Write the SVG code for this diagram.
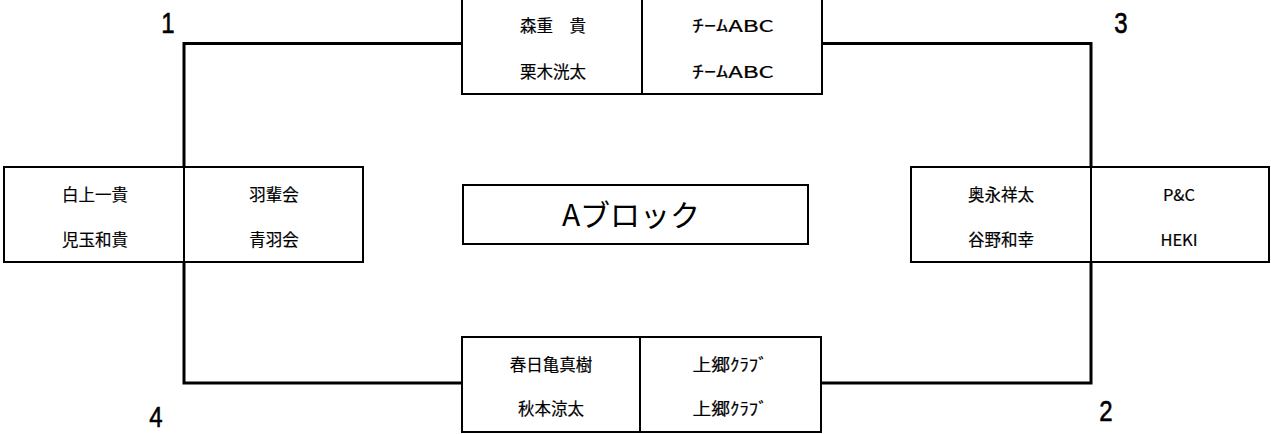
<svg xmlns="http://www.w3.org/2000/svg" width="1271" height="434" viewBox="0 0 1271 434">
<style>
.bg{fill:#fff}
.box{fill:#fff;stroke:#000;stroke-width:2}
.div{stroke:#000;stroke-width:2}
.con{fill:none;stroke:#000;stroke-width:3}
.t{font-family:"Noto Sans CJK JP","Noto Sans",sans-serif;font-size:16.5px;fill:#000;stroke:#000;stroke-width:0.2;text-anchor:middle;dominant-baseline:central}
.title{font-family:"Noto Sans CJK JP","Noto Sans",sans-serif;font-size:30px;fill:#000;text-anchor:middle;dominant-baseline:central}
.num{font-family:"Liberation Sans",Arial,sans-serif;font-size:30px;fill:#000;stroke:#000;stroke-width:0.6;text-anchor:middle}
</style>
<rect class="bg" x="0" y="0" width="1271" height="434"/>
<g id="connectors">
<path class="con" d="M462 43.5 H184 V383 H462"/>
<path class="con" d="M822 43.5 H1091 V383 H821"/>
</g>
<g id="node-top">
<rect class="box" x="462" y="-2" width="360" height="96"/>
<line class="div" x1="642" y1="-2" x2="642" y2="94"/>
<text class="t" x="553" y="25">森重　貴</text>
<text class="t" x="553" y="71">栗木洸太</text>
<text class="t" x="733" y="25" textLength="82" lengthAdjust="spacingAndGlyphs">ﾁｰﾑABC</text>
<text class="t" x="733" y="71" textLength="82" lengthAdjust="spacingAndGlyphs">ﾁｰﾑABC</text>
</g>
<g id="node-left">
<rect class="box" x="4" y="167" width="359" height="95"/>
<line class="div" x1="184" y1="167" x2="184" y2="262"/>
<text class="t" x="95" y="194">白上一貴</text>
<text class="t" x="95" y="239">児玉和貴</text>
<text class="t" x="274" y="194">羽輩会</text>
<text class="t" x="274" y="239">青羽会</text>
</g>
<g id="node-right">
<rect class="box" x="911" y="167" width="358" height="95"/>
<line class="div" x1="1091" y1="167" x2="1091" y2="262"/>
<text class="t" x="1001" y="194">奥永祥太</text>
<text class="t" x="1001" y="239">谷野和幸</text>
<text class="t" x="1179" y="194">P&amp;C</text>
<text class="t" x="1179" y="239">HEKI</text>
</g>
<g id="node-bottom">
<rect class="box" x="462" y="337" width="359" height="95"/>
<line class="div" x1="640" y1="337" x2="640" y2="432"/>
<text class="t" x="551" y="364">春日亀真樹</text>
<text class="t" x="551" y="408">秋本涼太</text>
<text class="t" x="730" y="364" textLength="75" lengthAdjust="spacingAndGlyphs">上郷ｸﾗﾌﾞ</text>
<text class="t" x="730" y="408" textLength="75" lengthAdjust="spacingAndGlyphs">上郷ｸﾗﾌﾞ</text>
</g>
<g id="node-title">
<rect class="box" x="463" y="185" width="345" height="59"/>
<text class="title" x="631" y="213">Aブロック</text>
</g>
<g id="labels">
<text class="num" transform="translate(168 33) scale(0.8 1)">1</text>
<text class="num" transform="translate(1121 33) scale(0.8 1)">3</text>
<text class="num" transform="translate(156 427) scale(0.8 1)">4</text>
<text class="num" transform="translate(1106 421) scale(0.8 1)">2</text>
</g>
</svg>
